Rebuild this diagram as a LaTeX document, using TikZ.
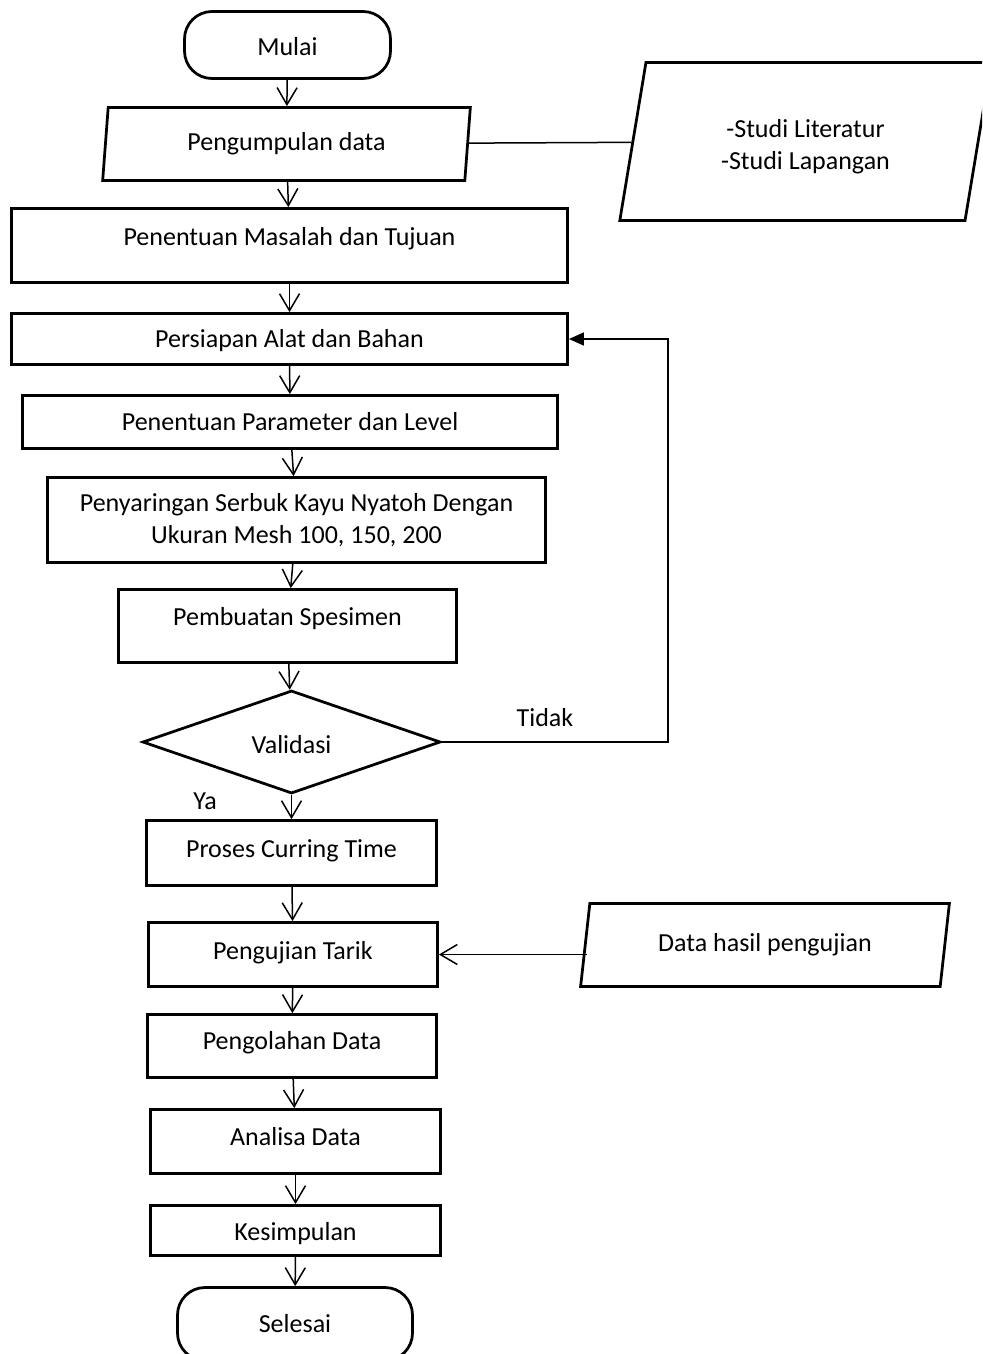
\documentclass[tikz,border=0pt]{standalone}
\usepackage{fontspec}
\setmainfont{Carlito}
\usetikzlibrary{shapes.geometric,arrows.meta}

\tikzset{
	tebal/.style={draw,line width=0.55mm},
	kotak/.style={tebal,rectangle,inner sep=0pt,text height=1em,text depth=0pt},
	blok/.style={tebal,rectangle,inner sep=0pt,align=center},
	terminal/.style={kotak,rounded corners=5.5mm},
	dataio/.style={tebal,trapezium,trapezium left angle=76,trapezium right angle=104,trapezium stretches=true,inner sep=0pt,align=center},
	keputusan/.style={tebal,diamond,inner sep=0pt,text height=1.3em,text depth=0pt},
	naik/.style={text depth=#1},
	garis/.style={line width=0.3mm},
	panah/.style={garis,-{Straight Barb[length=3.4mm,width=4mm]}},
	panahisi/.style={garis,-{Triangle[length=3mm,width=2.6mm]}}
}

\begin{document}
\begin{tikzpicture}[x=0.2mm,y=-0.2mm,font=\fontsize{14.8}{18}\selectfont]
			\clip (0,0) rectangle (982,1354);
			
			% Simbol
			\node[terminal,text height=1.15em,minimum width=41.2mm,minimum height=13.4mm] (mulai) at (287.5,45) {Mulai};
			\node[dataio,text height=0.7em,text depth=0pt,minimum width=73.6mm,minimum height=14.6mm] (kumpul) at (286.5,144) {Pengumpulan data};
			\node[dataio,text height=11.1mm,text depth=0pt,minimum width=74.4mm,minimum height=31.6mm] (studi) at (805.5,141.5) {-Studi Literatur\\-Studi Lapangan};
			\node[kotak,naik=3.4mm,minimum width=111.2mm,minimum height=14.8mm] (masalah) at (289.5,245.5) {Penentuan Masalah dan Tujuan};
			\node[kotak,minimum width=111.2mm,minimum height=10.2mm] (siap) at (289.5,339) {Persiapan Alat dan Bahan};
			\node[kotak,minimum width=107mm,minimum height=10.6mm] (param) at (290,422) {Penentuan Parameter dan Level};
			\node[blok,minimum width=99.6mm,minimum height=17mm] (saring) at (296.5,520) {Penyaringan Serbuk Kayu Nyatoh Dengan\\Ukuran Mesh 100, 150, 200};
			\node[kotak,naik=3.6mm,minimum width=67.6mm,minimum height=14.6mm] (spesimen) at (287.5,626) {Pembuatan Spesimen};
			\node[keputusan,minimum width=59.6mm,minimum height=20.6mm] (validasi) at (291.5,742) {Validasi};
			\node[kotak,naik=1.6mm,minimum width=58mm,minimum height=13mm] (curing) at (291.5,853) {Proses Curring Time};
			\node[kotak,naik=1.4mm,minimum width=57.8mm,minimum height=12.8mm] (uji) at (293,954.5) {Pengujian Tarik};
			\node[dataio,minimum width=73.8mm,minimum height=16.6mm] (hasil) at (765,945) {Data hasil pengujian};
			\node[kotak,naik=2mm,minimum width=57.8mm,minimum height=12.6mm] (olah) at (292,1046) {Pengolahan Data};
			\node[kotak,naik=1.8mm,minimum width=58mm,minimum height=12.8mm] (analisa) at (295.5,1141.5) {Analisa Data};
			\node[kotak,text height=1.1em,minimum width=58mm,minimum height=10mm] (simpul) at (295.5,1230.5) {Kesimpulan};
			\node[terminal,minimum width=47mm,minimum height=14.6mm] (selesai) at (295,1324) {Selesai};
			
			% Label
			\node (tidak) at (545,718) {Tidak};
			\node (ya) at (205,801) {Ya};
			
			% Panah
			\draw[panah] (mulai) -- (kumpul);
			\draw[garis] (kumpul) -- (studi);
			\draw[panah] (kumpul) -- (masalah);
			\draw[panah] (masalah) -- (siap);
			\draw[panah] (siap) -- (param);
			\draw[panah] (param) -- (saring);
			\draw[panah] (saring) -- (spesimen);
			\draw[panah] (spesimen) -- (validasi);
			\draw[panah] (validasi) -- (curing);
			\draw[panah] (curing) -- (uji);
			\draw[panah] (uji) -- (olah);
			\draw[panah] (olah) -- (analisa);
			\draw[panah] (analisa) -- (simpul);
			\draw[panah] (simpul) -- (selesai);
			
			% Tidak, kembali
			\coordinate (balik) at (668,742);
			\draw[panahisi] (validasi.east) -- (balik) |- (siap.east);
			
			% Data hasil
			\draw[panah,shorten <=-0.6mm] (hasil.west |- uji) -- (uji);
			
		\end{tikzpicture}
\end{document}
